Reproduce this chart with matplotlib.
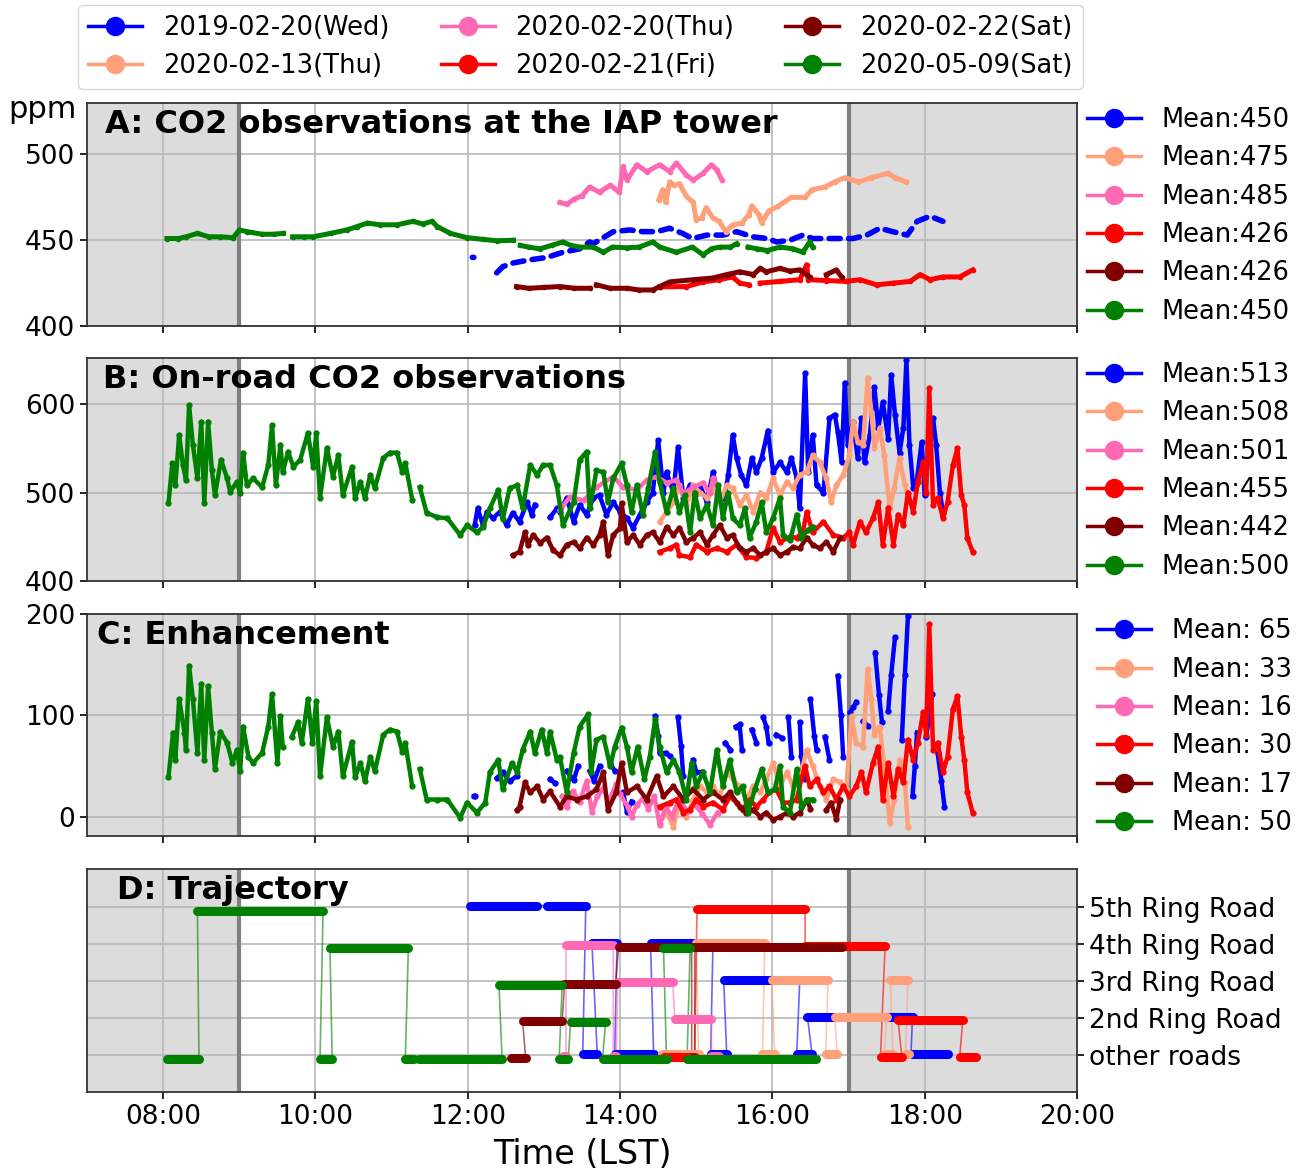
import numpy as np
import matplotlib
matplotlib.use('Agg')
import matplotlib.pyplot as plt
from matplotlib.lines import Line2D

nan = np.nan

dates = ['2019-02-20(Wed)', '2020-02-13(Thu)', '2020-02-20(Thu)',
         '2020-02-21(Fri)', '2020-02-22(Sat)', '2020-05-09(Sat)']
colors = ['#0000ff', '#ffa07a', '#ff69b4', '#ff0000', '#800000', '#008000']
means_A = [450, 475, 485, 426, 426, 450]
means_B = [513, 508, 501, 455, 442, 500]
means_C = [65, 33, 16, 30, 17, 50]
road_labels = ['other roads', '2nd Ring Road', '3rd Ring Road', '4th Ring Road', '5th Ring Road']
hour_ticks = [8, 10, 12, 14, 16, 18, 20]
hour_labels = ['08:00', '10:00', '12:00', '14:00', '16:00', '18:00', '20:00']

# ---------------- Panel A: tower CO2 (time [h], ppm) ----------------
A_blue = [(12.06, 440), (12.08, 440), (12.09, nan), (12.38, 431), (12.46, 434.6), (12.6, 436.8),
          (12.82, 438.6), (13.04, 440), (13.25, 443), (13.47, 445), (13.6, 449), (13.65, 448),
          (13.91, 455), (14.13, 456), (14.3, 455), (14.48, 455), (14.65, 457), (14.82, 454),
          (14.95, 451), (15.14, 453), (15.35, 453), (15.53, 455), (15.74, 452), (15.93, 451),
          (16.06, 449), (16.23, 450), (16.4, 453), (16.53, 451), (16.71, 451), (16.88, 451),
          (17.06, 451), (17.24, 453), (17.41, 457), (17.58, 455), (17.77, 453), (17.9, 461),
          (18.07, 464), (18.24, 461)]
A_salmon = [(14.51, 473.7), (14.56, 479.5), (14.6, 472), (14.65, 484), (14.71, 482), (14.78, 483),
            (14.87, 475.5), (14.96, 472), (15.0, 462), (15.07, 463), (15.13, 469), (15.22, 463),
            (15.3, 461), (15.39, 455), (15.48, 459), (15.6, 460), (15.69, 465), (15.73, 470),
            (15.82, 465), (15.86, 460), (15.95, 467), (16.08, 470), (16.25, 475), (16.43, 475),
            (16.52, 479.5), (16.69, 481), (16.82, 484), (16.95, 486.5), (17.13, 484), (17.3, 486.5),
            (17.52, 489), (17.61, 486.5), (17.76, 484)]
A_pink = [(13.21, 472), (13.3, 471), (13.4, 474), (13.5, 476), (13.6, 481), (13.73, 478),
          (13.87, 482), (13.99, 478), (14.04, 493), (14.09, 485), (14.22, 494), (14.35, 490),
          (14.52, 494), (14.65, 490), (14.74, 495), (14.87, 488), (14.96, 485), (15.09, 489),
          (15.2, 494), (15.27, 491), (15.34, 485)]
A_red = [(14.52, 422.8), (14.87, 423), (15.09, 425.7), (15.3, 427), (15.48, 428.6), (15.57, 425),
         (15.69, 424), (15.76, nan), (15.84, 425), (16.1, 426), (16.36, 427), (16.45, 435.7),
         (16.47, 427), (16.71, 426.5), (16.97, 426), (17.15, 427), (17.37, 424), (17.59, 425),
         (17.81, 426), (17.94, 430), (18.07, 427), (18.24, 428.6), (18.46, 428.6), (18.63, 432.7)]
A_maroon = [(12.64, 423), (12.8, 422), (13.0, 422.5), (13.21, 423), (13.4, 422), (13.6, 422),
            (13.64, nan), (13.69, 424), (13.87, 422), (14.09, 422), (14.25, 421), (14.43, 421),
            (14.52, 423), (14.65, 425.7), (14.96, 427), (15.22, 428), (15.4, 430), (15.57, 431.6),
            (15.75, 430), (15.84, 433.6), (15.92, 431.6), (16.1, 433.6), (16.23, 432), (16.36, 432.7),
            (16.49, 428.6), (16.6, nan), (16.71, 430), (16.84, 432.7), (16.91, 428.6)]
A_green = [(8.05, 451), (8.2, 451), (8.3, 452), (8.45, 454), (8.6, 452), (8.75, 452), (8.92, 451.5),
           (9.0, 456), (9.1, 455), (9.3, 453.5), (9.45, 453.5), (9.58, 454), (9.64, nan), (9.7, 452),
           (9.85, 452), (9.97, 452), (10.2, 454), (10.41, 456), (10.55, 458), (10.68, 460),
           (10.85, 459), (11.07, 459), (11.28, 461), (11.41, 459.5), (11.53, 461), (11.6, 458),
           (11.77, 454), (11.99, 451.5), (12.2, 450.5), (12.38, 449.7), (12.6, 450), (12.65, nan),
           (12.69, 447), (12.8, 446), (12.95, 445), (13.1, 447), (13.25, 449), (13.35, 447),
           (13.47, 446), (13.65, 446), (13.78, 443), (13.9, 446), (14.09, 445.6), (14.25, 446),
           (14.43, 449), (14.52, 446), (14.74, 443), (14.95, 446), (15.09, 441.5), (15.2, 445),
           (15.31, 446), (15.45, 446), (15.53, 448), (15.6, nan), (15.68, 446), (15.8, 445),
           (15.93, 444), (16.1, 446), (16.27, 445), (16.4, 443), (16.49, 449), (16.53, 446)]

# ---------------- Panel B: on-road CO2 ----------------
B_blue = [(12.09, 463), (12.13, 482), (12.2, 463), (12.25, 478), (12.33, 471), (12.42, 478),
          (12.51, 463), (12.59, 477), (12.68, 467), (12.78, 489), (12.84, 475), (12.88, 486),
          (12.98, nan), (13.08, 472), (13.17, 482), (13.21, 478), (13.3, 494), (13.39, 467),
          (13.47, 486), (13.56, 475), (13.65, 494), (13.73, 497), (13.82, 475), (13.91, 489),
          (14.0, 478), (14.09, 471), (14.17, 460), (14.26, 475), (14.35, 489), (14.43, 500),
          (14.5, 559), (14.57, 500), (14.61, 523), (14.7, 500), (14.76, 551), (14.83, 494),
          (14.92, 508), (14.98, 497), (15.05, 508), (15.14, 489), (15.22, 523), (15.29, 497),
          (15.35, 482), (15.42, 520), (15.48, 565), (15.53, 539), (15.59, 520), (15.66, 508),
          (15.73, 539), (15.79, 523), (15.86, 539), (15.94, 570), (16.01, 523), (16.1, 534),
          (16.19, 523), (16.25, 539), (16.32, 516), (16.36, 482), (16.43, 635), (16.47, 523),
          (16.53, 565), (16.58, 508), (16.67, 500), (16.75, 584), (16.82, 588), (16.86, 568),
          (16.91, 534), (16.95, 624), (16.99, 554), (17.06, 580), (17.12, 539), (17.17, 584),
          (17.21, 534), (17.28, 565), (17.34, 619), (17.39, 573), (17.45, 602), (17.52, 561),
          (17.56, 633), (17.61, 588), (17.67, 545), (17.72, 573), (17.76, 650), (17.8, 554),
          (17.85, 505), (17.89, 508), (17.96, 557), (18.0, 497), (18.07, 565), (18.11, 584),
          (18.15, 554), (18.2, 500), (18.24, 477)]
B_salmon = [(14.52, 467), (14.61, 478), (14.7, 489), (14.78, 508), (14.87, 486), (14.96, 508),
            (15.05, 500), (15.14, 494), (15.22, 505), (15.31, 489), (15.4, 508), (15.48, 505),
            (15.57, 486), (15.66, 497), (15.75, 478), (15.84, 500), (15.92, 494), (16.01, 516),
            (16.1, 497), (16.19, 512), (16.27, 505), (16.36, 520), (16.45, 523), (16.53, 542),
            (16.62, 534), (16.71, 516), (16.77, 489), (16.84, 508), (16.93, 520), (17.01, 542),
            (17.06, 580), (17.12, 557), (17.19, 554), (17.25, 629), (17.3, 591), (17.34, 550),
            (17.41, 573), (17.47, 542), (17.54, 482), (17.6, 505), (17.67, 539), (17.74, 508),
            (17.78, 497)]
B_pink = [(13.21, 480), (13.34, 495), (13.52, 491), (13.69, 506), (13.91, 518), (14.04, 506),
          (14.22, 503), (14.35, 514), (14.48, 518), (14.61, 511), (14.74, 514), (14.83, 499),
          (14.96, 506), (15.09, 511), (15.18, 499), (15.22, 516), (15.27, 508)]
B_red = [(14.52, 433), (14.65, 437), (14.74, 441), (14.78, 429), (14.92, 427), (15.0, 441),
         (15.14, 433), (15.27, 437), (15.4, 433), (15.53, 441), (15.66, 427), (15.79, 426),
         (15.92, 433), (16.01, 460), (16.1, 444), (16.23, 450), (16.32, 449), (16.4, 455),
         (16.45, 478), (16.53, 455), (16.67, 467), (16.8, 452), (16.93, 449), (17.01, 455),
         (17.06, 441), (17.15, 467), (17.23, 455), (17.32, 471), (17.39, 489), (17.45, 441),
         (17.52, 482), (17.59, 441), (17.65, 475), (17.72, 463), (17.78, 500), (17.85, 478),
         (17.91, 512), (17.98, 534), (18.02, 500), (18.06, 618), (18.11, 486), (18.17, 494),
         (18.24, 471), (18.3, 489), (18.37, 531), (18.43, 550), (18.48, 497), (18.52, 486),
         (18.56, 449), (18.63, 433)]
B_maroon = [(12.59, 429), (12.68, 433), (12.75, 455), (12.79, 441), (12.86, 452), (12.95, 443),
            (13.04, 449), (13.12, 435), (13.21, 429), (13.3, 441), (13.39, 444), (13.47, 437),
            (13.56, 449), (13.65, 441), (13.73, 452), (13.78, 467), (13.84, 429), (13.91, 452),
            (14.0, 460), (14.02, 488), (14.09, 444), (14.17, 452), (14.26, 441), (14.35, 452),
            (14.43, 455), (14.52, 444), (14.61, 461), (14.7, 452), (14.78, 460), (14.87, 444),
            (14.96, 449), (15.05, 455), (15.14, 441), (15.22, 452), (15.31, 463), (15.4, 449),
            (15.48, 452), (15.57, 437), (15.66, 433), (15.75, 437), (15.84, 429), (15.92, 433),
            (16.01, 437), (16.1, 429), (16.19, 433), (16.27, 438), (16.36, 437), (16.45, 449),
            (16.53, 441), (16.62, 437), (16.71, 444), (16.8, 433), (16.89, 449)]
B_green = [(8.07, 488), (8.12, 533), (8.16, 508), (8.21, 565), (8.26, 531), (8.3, 514), (8.34, 599),
           (8.39, 554), (8.45, 516), (8.5, 580), (8.54, 488), (8.59, 580), (8.64, 525), (8.68, 497),
           (8.76, 537), (8.84, 516), (8.88, 501), (8.97, 512), (9.01, 499), (9.05, 545), (9.1, 508),
           (9.18, 516), (9.3, 506), (9.38, 531), (9.43, 576), (9.48, 508), (9.54, 554), (9.57, 523),
           (9.64, 546), (9.71, 529), (9.8, 537), (9.9, 567), (9.97, 529), (10.01, 567), (10.06, 494),
           (10.15, 550), (10.23, 518), (10.3, 542), (10.36, 497), (10.48, 529), (10.52, 494),
           (10.59, 512), (10.65, 494), (10.72, 520), (10.78, 505), (10.89, 539), (10.98, 545),
           (11.07, 545), (11.14, 523), (11.18, 533), (11.27, 492), (11.32, nan), (11.37, 506),
           (11.46, 477), (11.6, 472), (11.73, 471), (11.9, 452), (11.99, 463), (12.12, 455),
           (12.2, 461), (12.29, 482), (12.4, 503), (12.46, 470), (12.55, 505), (12.65, 508),
           (12.72, 482), (12.82, 531), (12.91, 520), (12.99, 531), (13.08, 531), (13.17, 508),
           (13.25, 463), (13.39, 489), (13.47, 537), (13.56, 546), (13.6, 482), (13.69, 525),
           (13.78, 523), (13.84, 489), (13.91, 516), (14.02, 533), (14.09, 508), (14.15, 478),
           (14.22, 508), (14.3, 475), (14.37, 505), (14.46, 546), (14.52, 512), (14.61, 478),
           (14.7, 505), (14.78, 478), (14.85, 497), (14.92, 455), (14.98, 500), (15.05, 471),
           (15.14, 486), (15.22, 463), (15.29, 508), (15.35, 471), (15.42, 500), (15.48, 471),
           (15.57, 463), (15.64, 482), (15.7, 449), (15.79, 467), (15.86, 489), (15.92, 455),
           (16.01, 471), (16.1, 494), (16.14, 452), (16.23, 446), (16.32, 475), (16.38, 449),
           (16.47, 458), (16.53, 461)]

# ---------------- Panel C: enhancement ----------------
C_blue = [(12.08, 20), (12.1, 20), (12.2, nan), (12.38, 38), (12.46, 44), (12.55, 35), (12.64, 40),
          (12.8, nan), (13.08, 37), (13.15, 33), (13.2, nan), (13.3, 45), (13.39, 36), (13.45, 50),
          (13.5, nan), (13.6, 45), (13.66, 35), (13.73, 50), (13.8, nan), (13.87, 53), (13.93, 45),
          (13.98, nan), (14.04, 24), (14.09, 5), (14.15, 15), (14.3, nan), (14.46, 99), (14.5, 80),
          (14.52, 63), (14.6, 63), (14.65, 60), (14.7, nan), (14.76, 98), (14.8, 70), (14.83, 40),
          (14.9, nan), (14.96, 56), (15.0, 44), (15.07, 44), (15.2, nan), (15.38, 73), (15.45, 66),
          (15.48, nan), (15.52, 89), (15.57, 91), (15.6, 66), (15.65, nan), (15.73, 86), (15.79, 73),
          (15.83, nan), (15.88, 98), (15.92, 89), (15.95, 73), (16.0, nan), (16.05, 81), (16.12, 78),
          (16.16, nan), (16.21, 98), (16.25, 59), (16.3, nan), (16.36, 93), (16.38, 60), (16.43, 37),
          (16.46, nan), (16.5, 116), (16.55, 80), (16.58, 66), (16.63, nan), (16.69, 79), (16.75, 56),
          (16.8, nan), (16.86, 139), (16.9, 100), (16.93, 59), (16.97, nan), (17.02, 103),
          (17.06, 108), (17.1, 113), (17.14, nan), (17.19, 94), (17.25, 90), (17.3, nan),
          (17.35, 162), (17.4, 120), (17.44, 93), (17.48, nan), (17.52, 104), (17.56, 140),
          (17.61, 177), (17.65, nan), (17.7, 76), (17.74, 140), (17.78, 198), (17.81, nan),
          (17.84, 20), (17.87, 50), (17.9, 83), (17.96, nan), (18.02, 79), (18.06, 100), (18.1, 121),
          (18.13, nan), (18.17, 63), (18.22, 35), (18.26, 10)]
C_salmon = [(14.52, -6), (14.61, 4), (14.7, -10), (14.78, 14), (14.87, 0), (14.96, 17), (15.05, 30),
            (15.14, 24), (15.22, 30), (15.31, 20), (15.4, 44), (15.48, 37), (15.57, 30), (15.66, 17),
            (15.75, 30), (15.84, 24), (15.92, 37), (16.01, 53), (16.1, 30), (16.19, 44), (16.27, 30),
            (16.36, 37), (16.45, 66), (16.53, 50), (16.62, 30), (16.71, 17), (16.8, 37), (16.89, 34),
            (16.97, 27), (17.04, 99), (17.1, 73), (17.19, 69), (17.25, 146), (17.3, 116), (17.34, 81),
            (17.41, 89), (17.47, 50), (17.54, -6), (17.6, 17), (17.67, 56), (17.74, 34), (17.78, -10)]
C_pink = [(13.24, 20), (13.3, 10), (13.38, 25), (13.47, 15), (13.56, 35), (13.63, 5), (13.7, 20),
          (13.78, 28), (13.85, 15), (13.95, 32), (14.0, 22), (14.1, 10), (14.15, 0), (14.22, 12),
          (14.3, 18), (14.37, 8), (14.45, 20), (14.52, -8), (14.6, 10), (14.68, 0), (14.78, 18),
          (14.88, 5), (14.98, 12), (15.08, 3), (15.18, -8), (15.28, 4)]
C_red = [(14.52, 10), (14.65, 14), (14.74, 17), (14.83, 4), (14.92, 7), (15.0, 17), (15.09, 10),
         (15.22, 14), (15.35, 7), (15.44, 20), (15.53, 14), (15.61, 7), (15.7, 17), (15.79, 10),
         (15.88, 17), (15.96, 24), (16.05, 27), (16.14, 14), (16.23, 14), (16.32, 17), (16.38, 37),
         (16.43, 50), (16.49, 30), (16.58, 37), (16.67, 24), (16.75, 30), (16.84, 17), (16.93, 30),
         (17.01, 20), (17.1, 30), (17.17, 44), (17.23, 24), (17.32, 53), (17.39, 69), (17.45, 17),
         (17.52, 53), (17.59, 20), (17.65, 47), (17.72, 34), (17.78, 76), (17.85, 56), (17.91, 73),
         (17.98, 103), (18.02, 81), (18.06, 190), (18.11, 66), (18.17, 73), (18.24, 44), (18.3, 59),
         (18.37, 106), (18.43, 119), (18.48, 79), (18.52, 56), (18.56, 24), (18.63, 4)]
C_maroon = [(12.65, 7), (12.68, 10), (12.75, 34), (12.82, 24), (12.91, 30), (12.99, 17), (13.08, 25),
            (13.21, 10), (13.3, 20), (13.43, 17), (13.56, 20), (13.69, 27), (13.78, 44), (13.84, 7),
            (13.95, 24), (14.02, 53), (14.09, 24), (14.22, 30), (14.35, 17), (14.48, 40), (14.57, 20),
            (14.7, 30), (14.83, 17), (14.96, 27), (15.09, 17), (15.22, 24), (15.35, 17), (15.44, 24),
            (15.57, 10), (15.66, 4), (15.75, 7), (15.84, 0), (15.92, 4), (16.01, -3), (16.1, 0),
            (16.19, 4), (16.27, 0), (16.36, 4), (16.45, 17), (16.5, 8), (16.6, nan), (16.71, 7),
            (16.77, 14), (16.84, -2), (16.89, 17)]
C_green = [(8.07, 39), (8.13, 83), (8.16, 56), (8.21, 116), (8.28, 83), (8.3, 66), (8.34, 149),
           (8.39, 116), (8.45, 63), (8.5, 131), (8.54, 56), (8.59, 129), (8.64, 83), (8.68, 47),
           (8.75, 84), (8.84, 73), (8.91, 53), (8.97, 66), (9.01, 45), (9.05, 89), (9.12, 59),
           (9.18, 53), (9.3, 63), (9.38, 89), (9.43, 121), (9.5, 53), (9.54, 99), (9.57, 69),
           (9.63, nan), (9.69, 79), (9.77, 93), (9.82, 73), (9.9, 116), (9.96, 73), (10.01, 114),
           (10.06, 40), (10.15, 98), (10.23, 69), (10.3, 84), (10.36, 40), (10.48, 74), (10.52, 39),
           (10.59, 53), (10.65, 35), (10.72, 59), (10.78, 45), (10.89, 81), (10.98, 86), (11.07, 84),
           (11.14, 64), (11.18, 73), (11.27, 30), (11.32, nan), (11.37, 47), (11.46, 17), (11.6, 17),
           (11.73, 17), (11.9, -1), (11.99, 14), (12.12, 4), (12.23, 14), (12.29, 44), (12.4, 56),
           (12.46, 27), (12.58, 53), (12.65, 44), (12.72, 66), (12.82, 84), (12.88, 63), (12.97, 86),
           (13.04, 63), (13.08, 84), (13.17, 56), (13.21, 59), (13.3, 24), (13.39, 63), (13.47, 89),
           (13.58, 101), (13.62, 44), (13.69, 76), (13.78, 79), (13.87, 50), (13.93, 69), (14.02, 88),
           (14.09, 69), (14.15, 44), (14.23, 69), (14.32, 37), (14.39, 59), (14.46, 96), (14.52, 69),
           (14.61, 44), (14.7, 56), (14.78, 44), (14.87, 17), (14.94, 53), (15.0, 30), (15.09, 44),
           (15.18, 24), (15.27, 66), (15.35, 30), (15.44, 56), (15.53, 24), (15.61, 30), (15.68, 4),
           (15.77, 27), (15.86, 47), (15.94, 24), (16.03, 27), (16.1, 50), (16.14, 10), (16.23, 4),
           (16.32, 47), (16.38, 10), (16.47, 17), (16.53, 17)]

# ---------------- Panel D: trajectory segments (start h, end h, road level) ----------------
D_blue = [(12.03, 12.91, 4), (13.04, 13.55, 4), (13.51, 13.70, 0), (13.63, 13.96, 3),
          (13.93, 14.44, 0), (14.40, 15.22, 3), (15.19, 15.40, 0), (15.36, 16.36, 2),
          (16.32, 16.52, 0), (16.46, 17.84, 1), (17.82, 18.31, 0)]
D_salmon = [(14.55, 15.03, 0), (15.0, 15.9, 3), (15.87, 16.03, 0), (15.99, 16.73, 2),
            (16.70, 16.85, 0), (16.82, 17.50, 1), (17.47, 17.58, 0), (17.55, 17.78, 2),
            (17.75, 17.80, 0)]
D_pink = [(13.25, 13.29, 0), (13.29, 13.91, 3), (13.91, 13.95, 0), (13.97, 14.69, 2),
          (14.72, 15.20, 1), (15.20, 15.30, 0)]
D_red = [(14.58, 14.98, 0), (15.01, 16.43, 4), (16.43, 17.48, 3), (17.42, 17.70, 0),
         (17.65, 18.50, 1), (18.46, 18.68, 0)]
D_maroon = [(12.57, 12.76, 0), (12.72, 13.24, 1), (13.27, 13.94, 2), (13.98, 14.94, 3),
            (14.94, 14.98, 0), (14.98, 16.92, 3)]
D_green = [(8.05, 8.47, 0), (8.45, 10.10, 4), (10.06, 10.22, 0), (10.19, 11.22, 3),
           (11.18, 11.29, 0), (11.36, 12.45, 0), (12.41, 13.24, 2), (13.20, 13.32, 0),
           (13.35, 13.81, 1), (13.77, 14.61, 0), (14.57, 14.92, 3), (14.88, 16.57, 0)]
D_offsets = [0.04, 0.04, -0.02, -0.05, -0.08, -0.1]

A_series = [A_blue, A_salmon, A_pink, A_red, A_maroon, A_green]
B_series = [B_blue, B_salmon, B_pink, B_red, B_maroon, B_green]
C_series = [C_blue, C_salmon, C_pink, C_red, C_maroon, C_green]
D_series = [D_blue, D_salmon, D_pink, D_red, D_maroon, D_green]


def unzip(pairs):
    t = np.array([p[0] for p in pairs], float)
    v = np.array([p[1] for p in pairs], float)
    return t, v


W, H = 1306, 1171
fig = plt.figure(figsize=(W / 100, H / 100), dpi=100)
L, R = 87 / W, 1077 / W


def mkax(top, bot):
    return fig.add_axes([L, 1 - bot / H, R - L, (bot - top) / H])


axA = mkax(103, 326)
axB = mkax(358, 581)
axC = mkax(614, 836)
axD = mkax(869, 1092)
axes = [axA, axB, axC, axD]

TICK_FS = 19
LEG_FS = 18.5
TITLE_FS = 23

for ax in axes:
    ax.set_xlim(7, 20)
    ax.axvspan(7, 9, color='#dcdcdc', zorder=0, lw=0)
    ax.axvspan(17, 20, color='#dcdcdc', zorder=0, lw=0)
    ax.grid(True, color='#b8b8b8', lw=1.2, zorder=0.5)
    ax.set_axisbelow(True)
    ax.axvline(9, color='#808080', lw=3, zorder=1)
    ax.axvline(17, color='#808080', lw=3, zorder=1)
    ax.set_xticks(hour_ticks)
    ax.tick_params(axis='both', labelsize=TICK_FS, length=5, width=1.2)
    for s in ax.spines.values():
        s.set_linewidth(1.3)
        s.set_color('#333333')

for ax in [axA, axB, axC]:
    ax.set_xticklabels([])
axD.set_xticklabels(hour_labels)

# Panel A
for ser, c in zip(A_series, colors):
    t, v = unzip(ser)
    if c == '#0000ff':
        axA.plot(t, v, color=c, lw=4, ls=(0, (2.0, 1.5)), dash_capstyle='round', zorder=3)
    else:
        axA.plot(t, v, color=c, lw=3.6, marker='o', ms=3, zorder=3)
axA.set_ylim(400, 530)
axA.set_yticks([400, 450, 500])

# Panel B
for ser, c in zip(B_series, colors):
    t, v = unzip(ser)
    axB.plot(t, v, color=c, lw=3.2, marker='o', ms=3.5, zorder=3)
axB.set_ylim(400, 652)
axB.set_yticks([400, 500, 600])

# Panel C
for ser, c in zip(C_series, colors):
    t, v = unzip(ser)
    axC.plot(t, v, color=c, lw=3.2, marker='o', ms=3.5, zorder=3)
axC.set_ylim(-19, 200)
axC.set_yticks([0, 100, 200])

# Panel D
for segs, c, off in zip(D_series, colors, D_offsets):
    xs, ys = [], []
    for s, e, lev in segs:
        xs += [s, e]
        ys += [lev + off, lev + off]
    axD.plot(xs, ys, color=c, lw=1.2, alpha=0.6, zorder=3)
    for s, e, lev in segs:
        axD.plot([s, e], [lev + off, lev + off], color=c, lw=6.5, solid_capstyle='round', zorder=4)
axD.set_ylim(-1, 5.03)
axD.set_yticks(range(5))
axD.set_yticklabels(road_labels)
axD.yaxis.tick_right()
axD.tick_params(axis='y', labelsize=TICK_FS)
axD.set_xlabel('Time (LST)', fontsize=24, labelpad=6)

# Panel titles
axA.text(0.018, 0.975, 'A: CO2 observations at the IAP tower', transform=axA.transAxes,
         fontsize=TITLE_FS, fontweight='bold', va='top', ha='left', zorder=10)
axB.text(0.016, 0.975, 'B: On-road CO2 observations', transform=axB.transAxes,
         fontsize=TITLE_FS, fontweight='bold', va='top', ha='left', zorder=10)
axC.text(0.010, 0.975, 'C: Enhancement', transform=axC.transAxes,
         fontsize=TITLE_FS, fontweight='bold', va='top', ha='left', zorder=10)
axD.text(0.030, 0.975, 'D: Trajectory', transform=axD.transAxes,
         fontsize=TITLE_FS, fontweight='bold', va='top', ha='left', zorder=10)
fig.text(8 / W, 1 - 118 / H, 'ppm', fontsize=22, ha='left', va='baseline')


def handles():
    return [Line2D([], [], color=c, lw=2.5, marker='o', ms=13) for c in colors]


LS = 0.48
axA.legend(handles(), ['Mean:%d' % m for m in means_A], loc='upper left',
           bbox_to_anchor=(1.0, 1.028), frameon=False, fontsize=LEG_FS,
           labelspacing=LS, handlelength=2.1, handletextpad=0.8, borderaxespad=0)
axB.legend(handles(), ['Mean:%d' % m for m in means_B], loc='upper left',
           bbox_to_anchor=(1.0, 1.028), frameon=False, fontsize=LEG_FS,
           labelspacing=LS, handlelength=2.1, handletextpad=0.8, borderaxespad=0)
axC.legend(handles(), ['Mean:%3d' % m for m in means_C], loc='upper left',
           bbox_to_anchor=(1.01, 1.027), frameon=False, fontsize=LEG_FS,
           labelspacing=LS, handlelength=2.1, handletextpad=0.8, borderaxespad=0)

fig.legend(handles(), dates, ncol=3, loc='upper left', bbox_to_anchor=(78 / W, 1 - 5 / H),
           fontsize=LEG_FS, frameon=True, edgecolor='#cccccc', fancybox=True,
           handlelength=2.1, handletextpad=0.8, columnspacing=2.0, labelspacing=0.45,
           borderaxespad=0)

fig.savefig('out.png', dpi=100)
